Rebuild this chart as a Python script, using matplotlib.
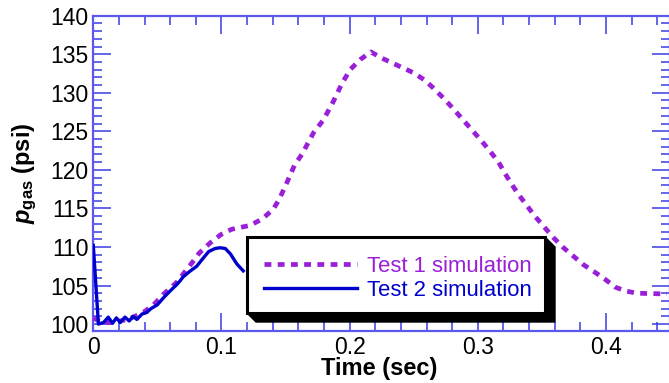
import matplotlib
matplotlib.use("Agg")
import matplotlib.pyplot as plt
from matplotlib.patches import Polygon, Rectangle
from matplotlib.ticker import MultipleLocator, FixedLocator, FixedFormatter

plt.rcParams['font.family'] = ['Liberation Sans', 'DejaVu Sans']
plt.rcParams['mathtext.fontset'] = 'custom'
plt.rcParams['mathtext.it'] = 'Liberation Sans:italic:bold'
plt.rcParams['mathtext.bf'] = 'Liberation Sans:bold'
plt.rcParams['mathtext.rm'] = 'Liberation Sans:bold'

# ---- data ----
t1 = [0.0, 0.0067, 0.0143, 0.027, 0.039, 0.047, 0.055, 0.065, 0.0768, 0.0826,
      0.091, 0.0995, 0.108, 0.1223, 0.1315, 0.1405, 0.1457, 0.152, 0.157,
      0.1627, 0.1718, 0.1796, 0.1874, 0.194, 0.2004, 0.2082, 0.2166, 0.2251,
      0.2394, 0.2498, 0.259, 0.2654, 0.2733, 0.2811, 0.2889, 0.2954, 0.3032,
      0.3097, 0.3162, 0.3214, 0.3266, 0.3318, 0.3378, 0.3435, 0.3513, 0.3591,
      0.3669, 0.3747, 0.3825, 0.3916, 0.3994, 0.4072, 0.415, 0.4242, 0.4476]
p1 = [100.8, 100.2, 100.2, 100.6, 101.5, 102.5, 103.9, 105.4, 107.9, 109.2,
      110.5, 111.6, 112.3, 112.8, 113.6, 114.9, 116.4, 118.7, 120.6,
      122.0, 124.8, 126.5, 128.9, 131.2, 133.0, 134.3, 135.3, 134.5,
      133.4, 132.6, 131.6, 130.6, 129.3, 127.9, 126.4, 125.2, 123.7,
      122.4, 121.0, 119.5, 118.1, 116.8, 115.5, 114.2, 112.7, 111.2,
      109.9, 108.8, 107.7, 106.7, 105.8, 104.8, 104.3, 104.0, 103.9]

t2 = [0.0, 0.004, 0.008, 0.0117, 0.015, 0.018, 0.021, 0.0247, 0.028, 0.031,
      0.034, 0.038, 0.0417, 0.045, 0.05, 0.0547, 0.06, 0.065, 0.0677, 0.07,
      0.075, 0.0807, 0.085, 0.09, 0.095, 0.099, 0.103, 0.107, 0.112, 0.117]
p2 = [110.2, 100.0, 100.2, 100.9, 100.1, 100.8, 100.2, 100.9, 100.4, 101.0,
      100.6, 101.3, 101.5, 102.0, 102.5, 103.4, 104.3, 105.1, 105.6, 106.1,
      106.8, 107.5, 108.4, 109.4, 109.8, 109.9, 109.8, 109.1, 107.8, 106.9]

labels = ['Test 1 simulation', 'Test 2 simulation']
xticks = [0, 0.1, 0.2, 0.3, 0.4]
xticklabels = ['0', '0.1', '0.2', '0.3', '0.4']
yticks = [100, 105, 110, 115, 120, 125, 130, 135, 140]

W, H = 669, 383
fig = plt.figure(figsize=(W / 100, H / 100), dpi=100)
ax = fig.add_axes([93.3 / W, 1 - 331.0 / H, (670.0 - 93.3) / W, (331.0 - 15.7) / H])

purple = '#9a1fd8'
blue = '#0000cc'
l1, = ax.plot(t1, p1, color=purple, lw=3.4, linestyle=(0, (1.45, 1.35)),
              dash_capstyle='butt', zorder=3)
l2, = ax.plot(t2, p2, color=blue, lw=2.4, zorder=4)

ax.set_xlim(0, 0.45)
ax.set_ylim(99.1, 140)
ax.xaxis.set_major_locator(FixedLocator(xticks))
ax.xaxis.set_major_formatter(FixedFormatter(xticklabels))
ax.xaxis.set_minor_locator(MultipleLocator(0.02))
ax.yaxis.set_major_locator(FixedLocator(yticks))
ax.yaxis.set_minor_locator(MultipleLocator(1))

tc = '#3a3ae6'
ax.tick_params(which='both', direction='in', top=True, right=True, color=tc,
               labelsize=16.5, width=1.1)
ax.tick_params(axis='y', which='major', length=13, pad=3.5)
ax.tick_params(axis='x', which='major', length=13, pad=3.8)
ax.tick_params(which='minor', length=6.5)
for s in ax.spines.values():
    s.set_color('#5a5aee')
    s.set_linewidth(1.6)

fig.text(379 / W, 1 - 369 / H, 'Time (sec)', ha='center', va='center',
         fontsize=17, fontweight='bold')
fig.text(25 / W, 1 - 173 / H, r'$\mathit{p}_{\mathbf{gas}}$ (psi)', ha='center',
         va='center', rotation=90, fontsize=17, fontweight='bold')

# legend box with bevelled shadow
def px(x, y):
    return (x / W, 1 - y / H)

shadow = Polygon([px(545, 237), px(555, 247), px(555, 322), px(256, 322), px(247, 313)],
                 closed=True, transform=fig.transFigure, facecolor='black',
                 edgecolor='black', zorder=5)
fig.patches.append(shadow)
box = Rectangle(px(247, 313), (545 - 247) / W, (313 - 237) / H,
                transform=fig.transFigure, facecolor='white', edgecolor='black',
                linewidth=2.2, zorder=6)
fig.patches.append(box)

leg = fig.legend([l1, l2], labels, loc='center left',
                 bbox_to_anchor=(264 / W, 1 - 278.5 / H), frameon=False,
                 fontsize=15.9, handlelength=4.2, handletextpad=0.45,
                 labelspacing=0.12, borderaxespad=0, borderpad=0)
leg.set_zorder(7)
for txt, c in zip(leg.get_texts(), [purple, blue]):
    txt.set_color(c)

fig.savefig('out.png', dpi=100)
